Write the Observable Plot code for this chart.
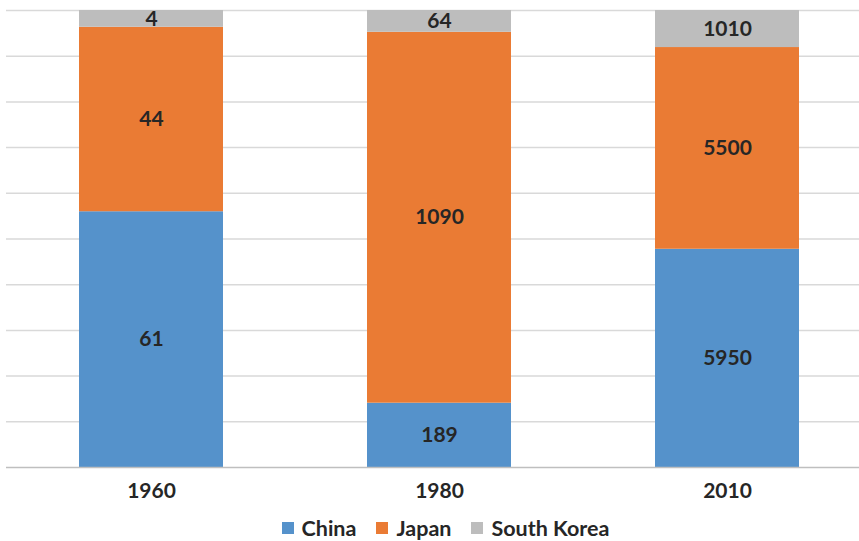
<!DOCTYPE html>
<html>
<head>
<meta charset="utf-8">
<script src="https://cdn.jsdelivr.net/npm/d3@7"></script>
<script src="https://cdn.jsdelivr.net/npm/@observablehq/plot@0.6"></script>
<style>
  html, body { margin: 0; padding: 0; background: #fff; }
  body { width: 859px; height: 541px; overflow: hidden; font-family: Lato, "Open Sans", sans-serif; }
  #legend { display: flex; justify-content: center; align-items: center; height: 34px; padding-top: 4px; padding-left: 32px;
            font-weight: bold; font-size: 21.5px; color: #262626; }
  #legend .item { display: flex; align-items: center; margin: 0 10px; }
  #legend .sw { width: 12px; height: 12px; margin-right: 8px; }
</style>
</head>
<body>
<div id="chart"></div>
<div id="legend"></div>
<script>
const years = ["1960", "1980", "2010"];
const countries = ["China", "Japan", "South Korea"];
const china = [61, 189, 5950];
const japan = [44, 1090, 5500];
const southKorea = [4, 64, 1010];
const colors = ["#5592CB", "#EA7B34", "#BDBDBD"];
const gridTicks = [0.1, 0.2, 0.3, 0.4, 0.5, 0.6, 0.7, 0.8, 0.9, 1.0];

const series = [china, japan, southKorea];
const data = [];
years.forEach((year, i) => {
  countries.forEach((country, j) => {
    data.push({year, country, value: series[j][i]});
  });
});

const stackOpts = {x: "year", y: "value", z: "country", order: countries, offset: "normalize"};

const chart = Plot.plot({
  width: 859,
  height: 507,
  marginTop: 10,
  marginBottom: 40,
  marginLeft: 6,
  marginRight: 0,
  style: {fontFamily: "Lato, 'Open Sans', sans-serif", background: "#fff", overflow: "visible"},
  x: {domain: years, range: [6, 871], paddingInner: 0.5, paddingOuter: 0.25, label: null},
  y: {domain: [0, 1], axis: null},
  color: {domain: countries, range: colors},
  marks: [
    Plot.ruleY(gridTicks, {stroke: "#D9D9D9", strokeWidth: 1.5}),
    Plot.barY(data, Plot.stackY({...stackOpts, fill: "country"})),
    Plot.text(data, Plot.stackY({...stackOpts, text: (d) => String(d.value), fill: "#262626",
      fontSize: 21, fontWeight: "bold"})),
    Plot.ruleY([0], {stroke: "#BFBFBF", strokeWidth: 1.5}),
    Plot.axisX({tickSize: 0, tickPadding: 16, fontSize: 21, fontWeight: "bold", fill: "#262626", label: null})
  ]
});
document.getElementById("chart").appendChild(chart);

const legend = document.getElementById("legend");
countries.forEach((c, i) => {
  const item = document.createElement("div");
  item.className = "item";
  const sw = document.createElement("span");
  sw.className = "sw";
  sw.style.background = colors[i];
  const label = document.createElement("span");
  label.textContent = c;
  item.appendChild(sw);
  item.appendChild(label);
  legend.appendChild(item);
});
</script>
</body>
</html>
